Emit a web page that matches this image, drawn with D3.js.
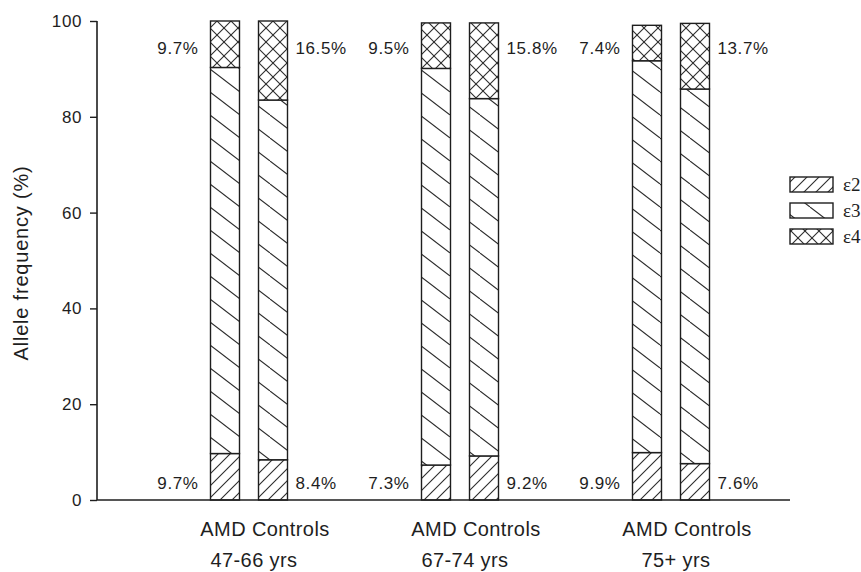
<!DOCTYPE html>
<html><head><meta charset="utf-8">
<script src="https://cdn.jsdelivr.net/npm/d3@7"></script>
<style>html,body{margin:0;padding:0;background:#fff;}svg{display:block;}</style>
</head><body>
<script>
const ageGroups = ["47-66 yrs", "67-74 yrs", "75+ yrs"];
const subjects = ["AMD", "Controls"];
const alleles = ["ε2", "ε3", "ε4"];
// values per bar, in order: group1 AMD, group1 Controls, group2 AMD, ...
const e2Values = [9.7, 8.4, 7.3, 9.2, 9.9, 7.6];
const e3Values = [80.6, 75.1, 82.8, 74.6, 81.8, 78.2];
const e4Values = [9.7, 16.5, 9.5, 15.8, 7.4, 13.7];
const yTicks = [0, 20, 40, 60, 80, 100];

const W = 861, H = 572;
const svg = d3.select("body").append("svg").attr("width", W).attr("height", H);
const font = "'Liberation Sans', Arial, Helvetica, sans-serif";
const ink = "#1e1e1e";

// patterns
const defs = svg.append("defs");
function pat(id, w, h, lines) {
  const p = defs.append("pattern").attr("id", id).attr("patternUnits", "userSpaceOnUse")
    .attr("width", w).attr("height", h);
  p.append("rect").attr("width", w).attr("height", h).attr("fill", "#fff");
  lines.forEach(l => p.append("line").attr("x1", l[0]).attr("y1", l[1]).attr("x2", l[2]).attr("y2", l[3])
    .attr("stroke", "#2a2a2a").attr("stroke-width", 1.1));
}
pat("p-e2", 12, 12, [[0, 12, 12, 0], [-1, 1, 1, -1], [11, 13, 13, 11]]);
pat("p-e3", 30, 23, [[0, 0, 30, 23], [-30, 0, 0, 23], [30, 0, 60, 23]]);
pat("p-e4", 14, 14, [[0, 0, 14, 14], [14, 0, 0, 14]]);
const patId = {"ε2": "p-e2", "ε3": "p-e3", "ε4": "p-e4"};

const rows = [];
ageGroups.forEach((g, gi) => subjects.forEach((s, si) => {
  const i = gi * 2 + si;
  rows.push({group: g, subject: s, "ε2": e2Values[i], "ε3": e3Values[i], "ε4": e4Values[i]});
}));

const y = d3.scaleLinear().domain([0, 100]).range([500, 21]);
const x0 = d3.scaleBand().domain(ageGroups).range([143.5, 776.5]);
const x1 = d3.scaleBand().domain(subjects)
  .range([x0.bandwidth() / 2 - 38.5, x0.bandwidth() / 2 + 38.5]).paddingInner(0.396);

const stack = d3.stack().keys(alleles)(rows);

const g = svg.append("g");
stack.forEach(layer => {
  g.selectAll(null).data(layer).enter().append("rect")
    .attr("x", d => x0(d.data.group) + x1(d.data.subject))
    .attr("width", x1.bandwidth())
    .attr("y", d => y(d[1]))
    .attr("height", d => y(d[0]) - y(d[1]))
    .attr("fill", `url(#${patId[layer.key]})`)
    .attr("stroke", ink).attr("stroke-width", 1.4);
});

// axes
const yAxis = d3.axisLeft(y).tickValues(yTicks).tickSize(7).tickPadding(8);
const ya = svg.append("g").attr("transform", "translate(97,0)").call(yAxis);
ya.select(".domain").attr("stroke", ink).attr("stroke-width", 1.6).attr("d", `M0,${y(100)}V${y(0)}`);
ya.selectAll(".tick line").attr("stroke", ink).attr("stroke-width", 1.4);
ya.selectAll(".tick text").attr("font-family", font).attr("font-size", 17)
  .attr("letter-spacing", "0.6px").attr("fill", ink);

svg.append("line").attr("x1", 97).attr("x2", 790).attr("y1", y(0)).attr("y2", y(0))
  .attr("stroke", ink).attr("stroke-width", 1.6);

// y title
svg.append("text").attr("transform", `translate(28,263) rotate(-90)`)
  .attr("text-anchor", "middle").attr("font-family", font).attr("font-size", 20)
  .attr("letter-spacing", "0.8px").attr("fill", ink).text("Allele frequency (%)");

// percent labels
const fmt = v => v.toFixed(1) + "%";
rows.forEach(r => {
  const bx = x0(r.group) + x1(r.subject);
  const left = r.subject === "AMD";
  const tx = left ? bx - 12 : bx + x1.bandwidth() + 8;
  const anchor = left ? "end" : "start";
  svg.append("text").attr("x", tx).attr("y", 54).attr("text-anchor", anchor)
    .attr("font-family", font).attr("font-size", 17).attr("letter-spacing", "0.6px")
    .attr("fill", ink).text(fmt(r["ε4"]));
  svg.append("text").attr("x", tx).attr("y", 489).attr("text-anchor", anchor)
    .attr("font-family", font).attr("font-size", 17).attr("letter-spacing", "0.6px")
    .attr("fill", ink).text(fmt(r["ε2"]));
});

// x labels
ageGroups.forEach(gr => {
  const cx = x0(gr) + x0.bandwidth() / 2;
  svg.append("text").attr("x", cx + 16).attr("y", 536).attr("text-anchor", "middle")
    .attr("font-family", font).attr("font-size", 20).attr("letter-spacing", "0.4px").attr("fill", ink)
    .text(subjects.join(" "));
  svg.append("text").attr("x", cx + 5).attr("y", 567).attr("text-anchor", "middle")
    .attr("font-family", font).attr("font-size", 20).attr("letter-spacing", "0.4px").attr("fill", ink).text(gr);
});

// legend
alleles.forEach((a, i) => {
  const ly = 177 + i * 26;
  svg.append("rect").attr("x", 790).attr("y", ly).attr("width", 43).attr("height", 15)
    .attr("fill", `url(#${patId[a]})`).attr("stroke", ink).attr("stroke-width", 1.4);
  svg.append("text").attr("x", 843).attr("y", ly + 14).attr("font-family", "'Liberation Serif', 'Times New Roman', serif")
    .attr("font-size", 19).attr("fill", ink).text(a);
});
</script>
</body></html>
